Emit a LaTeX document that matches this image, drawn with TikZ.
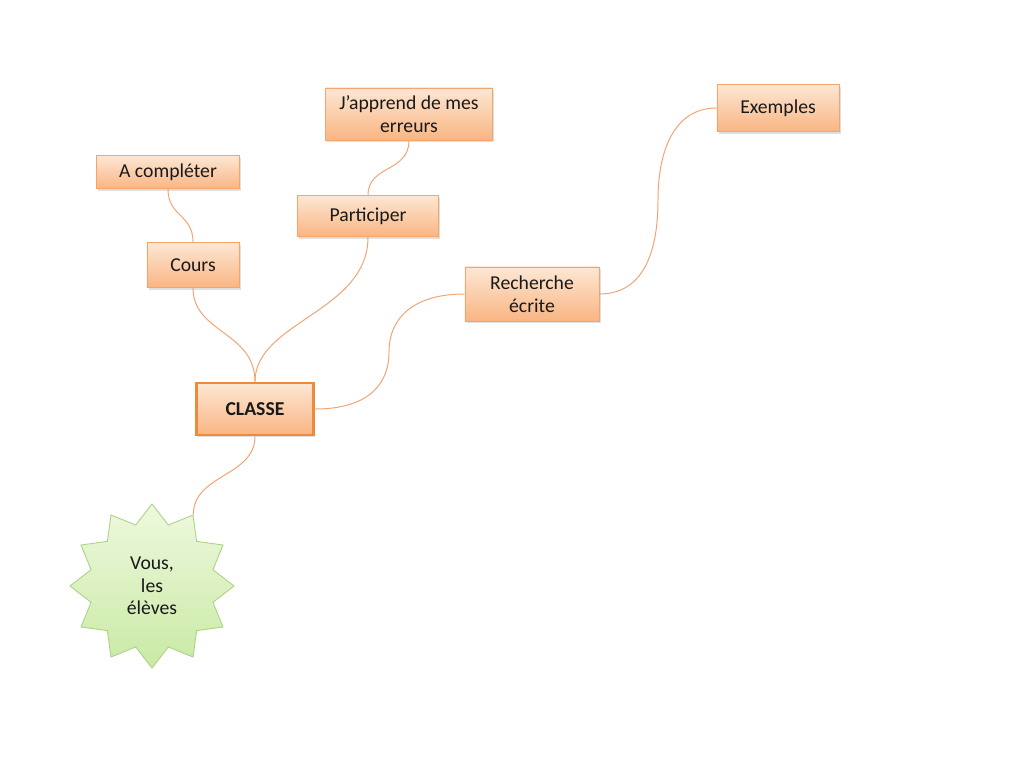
\documentclass[tikz,border=0pt]{standalone}
\usepackage{fontspec}
\setmainfont{Carlito}
\usetikzlibrary{shapes,shadows,positioning}

\definecolor{boxtop}{HTML}{FDE7D4}
\definecolor{boxbot}{HTML}{F9B583}
\definecolor{boxline}{HTML}{F3A56C}
\definecolor{centreline}{HTML}{EE8A3C}
\definecolor{lienline}{HTML}{F2A374}
\definecolor{startop}{HTML}{EEF8DE}
\definecolor{starbot}{HTML}{C9EAA4}
\definecolor{starline}{HTML}{A9D283}

\tikzset{
  idee/.style={rectangle, draw=boxline, line width=0.6pt, top color=boxtop, bottom color=boxbot,
    align=center, text=black!90, font=\fontsize{14}{16.5}\selectfont,
    drop shadow={opacity=0.25, shadow xshift=1.2pt, shadow yshift=-1.5pt}},
  centre/.style={idee, draw=centreline, line width=2pt, font=\fontsize{14}{16.5}\selectfont\bfseries},
  etoile/.style={star, star points=12, star point ratio=1.3, minimum size=4.1cm, inner sep=0pt,
    draw=starline, line width=0.6pt, top color=startop, bottom color=starbot,
    align=center, text=black!90, font=\fontsize{14}{16}\selectfont},
  lien/.style={draw=lienline, line width=0.7pt}
}

\begin{document}
\begin{tikzpicture}[x=0.025cm, y=-0.025cm]
  \useasboundingbox (0,0) rectangle (1024,768);

  % centre et branches
  \node[centre, minimum width=2.93cm, minimum height=1.3cm] (classe) at (255,409) {CLASSE};
  \node[idee, minimum width=2.3cm, minimum height=1.13cm] (cours) at (193,265) {Cours};
  \node[idee, minimum width=3.58cm, minimum height=0.83cm] (completer) at (168,172) {A compléter};
  \node[idee, minimum width=3.53cm, minimum height=1.03cm] (participer) at (368,216) {Participer};
  \node[idee, minimum width=4.18cm, minimum height=1.3cm] (japprend) at (409,114) {J’apprend de mes\\erreurs};
  \node[idee, minimum width=3.35cm, minimum height=1.35cm] (recherche) at (532,294) {Recherche\\écrite};
  \node[idee, minimum width=3.05cm, minimum height=1.18cm] (exemples) at (778,108) {Exemples};
  \node[etoile] (eleves) at (152,586) {Vous,\\les\\élèves};

  % liens
  \draw[lien] (completer.south) .. controls +(0,28) and +(0,-28) .. (cours.north);
  \draw[lien] (cours.south) .. controls +(0,45) and +(0,-50) .. (classe.north);
  \draw[lien] (japprend.south) .. controls +(0,32) and +(0,-30) .. (participer.north);
  \draw[lien] (participer.south) .. controls +(0,75) and +(0,-60) .. (classe.north);
  \draw[lien] (classe.east) .. controls +(50,0) and +(0,35) .. (389,352)
                            .. controls +(0,-35) and +(-50,0) .. (recherche.west);
  \draw[lien] (recherche.east) .. controls +(45,0) and +(0,50) .. (658,200)
                               .. controls +(0,-50) and +(-42,0) .. (exemples.west);
  \draw[lien] (classe.south) .. controls +(0,40) and +(0,-40) .. (eleves.60);
\end{tikzpicture}
\end{document}
